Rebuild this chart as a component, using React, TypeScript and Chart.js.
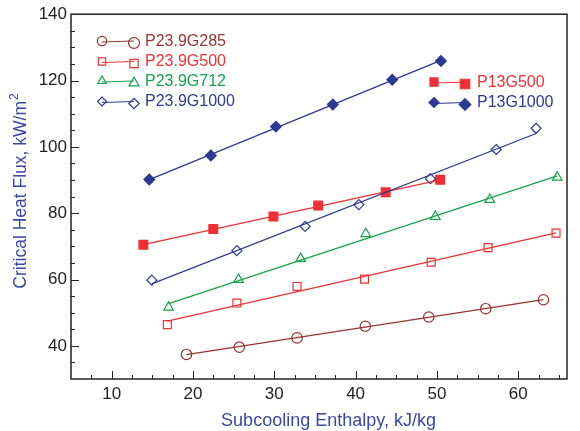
import React, { useEffect, useRef } from 'react';
import { Chart, registerables } from 'chart.js';
Chart.register(...registerables);

// ---- data ----
const xTicks = [10, 20, 30, 40, 50, 60];
const yTicks = [40, 60, 80, 100, 120, 140];

const seriesNames = ['P23.9G285', 'P23.9G500', 'P23.9G712', 'P23.9G1000', 'P13G500', 'P13G1000'];
const xTitle = 'Subcooling Enthalpy, kJ/kg';
const yTitle = 'Critical Heat Flux, kW/m';
const yTitleSup = '2';

const g285X = [19.2, 25.7, 32.8, 41.2, 49.0, 56.0, 63.1];
const g285Y = [37.4, 39.6, 42.4, 45.9, 48.7, 51.2, 53.9];
const g500X = [16.85, 25.4, 32.8, 41.1, 49.3, 56.3, 64.65];
const g500Y = [46.4, 52.9, 57.9, 60.1, 65.2, 69.6, 74.0];
const g712X = [17.0, 25.6, 33.25, 41.25, 49.8, 56.5, 64.8];
const g712Y = [51.6, 60.0, 66.3, 73.8, 79.0, 84.1, 90.8];
const g1000X = [14.93, 25.4, 33.8, 40.4, 49.2, 57.3, 62.2];
const g1000Y = [59.8, 68.7, 76.0, 82.6, 90.4, 99.2, 105.6];
const p13g500X = [13.9, 22.5, 29.9, 35.4, 43.7, 50.4];
const p13g500Y = [70.5, 75.2, 79.0, 82.3, 86.3, 90.1];
const p13g1000X = [14.63, 22.2, 30.2, 37.2, 44.5, 50.5];
const p13g1000Y = [90.15, 97.4, 106.1, 112.8, 120.2, 125.9];

// ---- styles ----
const BROWN = '#94352f';
const RED = '#ee3137';
const GREEN = '#16a34a';
const BLUE = '#2c3a92';
const TITLE_BLUE = '#3a49a3';
const FONT = "'Liberation Sans', Arial, sans-serif";

type Spec = { name: string; xs: number[]; ys: number[]; color: string; style: string; filled: boolean; r: number };

const specs: Spec[] = [
  { name: seriesNames[0], xs: g285X, ys: g285Y, color: BROWN, style: 'circle', filled: false, r: 5.2 },
  { name: seriesNames[1], xs: g500X, ys: g500Y, color: RED, style: 'rect', filled: false, r: 5.6 },
  { name: seriesNames[2], xs: g712X, ys: g712Y, color: GREEN, style: 'triangle', filled: false, r: 5.6 },
  { name: seriesNames[3], xs: g1000X, ys: g1000Y, color: BLUE, style: 'rectRot', filled: false, r: 5.0 },
  { name: seriesNames[4], xs: p13g500X, ys: p13g500Y, color: RED, style: 'rect', filled: true, r: 6.2 },
  { name: seriesNames[5], xs: p13g1000X, ys: p13g1000Y, color: BLUE, style: 'rectRot', filled: true, r: 5.4 },
];

function fitLine(xs: number[], ys: number[]) {
  const n = xs.length;
  const mx = xs.reduce((a, b) => a + b, 0) / n;
  const my = ys.reduce((a, b) => a + b, 0) / n;
  let sxy = 0, sxx = 0;
  for (let i = 0; i < n; i++) { sxy += (xs[i] - mx) * (ys[i] - my); sxx += (xs[i] - mx) ** 2; }
  const b = sxy / sxx;
  const a = my - b * mx;
  const x0 = Math.min(...xs), x1 = Math.max(...xs);
  return [{ x: x0, y: a + b * x0 }, { x: x1, y: a + b * x1 }];
}

function drawMarker(ctx: CanvasRenderingContext2D, style: string, x: number, y: number, r: number, color: string, filled: boolean) {
  ctx.save();
  ctx.beginPath();
  if (style === 'circle') {
    ctx.arc(x, y, r, 0, Math.PI * 2);
  } else if (style === 'rect') {
    const s = r * Math.SQRT1_2;
    ctx.rect(x - s, y - s, 2 * s, 2 * s);
  } else if (style === 'triangle') {
    for (let k = 0; k < 3; k++) {
      const ang = k * (2 * Math.PI / 3);
      const px = x + Math.sin(ang) * r, py = y - Math.cos(ang) * r;
      if (k === 0) ctx.moveTo(px, py); else ctx.lineTo(px, py);
    }
    ctx.closePath();
  } else {
    ctx.moveTo(x, y - r); ctx.lineTo(x + r, y); ctx.lineTo(x, y + r); ctx.lineTo(x - r, y); ctx.closePath();
  }
  ctx.lineWidth = 1.2;
  ctx.strokeStyle = color;
  if (filled) { ctx.fillStyle = color; ctx.fill(); }
  ctx.stroke();
  ctx.restore();
}

const framePlugin = {
  id: 'frame',
  afterDatasetsDraw(chart: any) {
    const { ctx, chartArea: a, scales } = chart;
    const xs = scales.x, ys = scales.y;
    ctx.save();
    ctx.strokeStyle = '#222';
    ctx.lineWidth = 1.5;
    ctx.strokeRect(a.left, a.top, a.right - a.left, a.bottom - a.top);
    ctx.lineWidth = 1;
    ctx.beginPath();
    for (let v = 7.5; v < xs.max; v += 2.5) {
      const px = Math.round(xs.getPixelForValue(v)) + 0.5;
      const len = v % 10 === 0 ? 8 : 4;
      ctx.moveTo(px, a.bottom); ctx.lineTo(px, a.bottom - len);
    }
    for (let v = 35; v < ys.max; v += 5) {
      const py = Math.round(ys.getPixelForValue(v)) + 0.5;
      const len = v % 20 === 0 ? 8 : 4;
      ctx.moveTo(a.left, py); ctx.lineTo(a.left + len, py);
    }
    ctx.stroke();

    // axis titles
    ctx.fillStyle = TITLE_BLUE;
    ctx.textBaseline = 'middle';
    ctx.textAlign = 'center';
    ctx.font = `18px ${FONT}`;
    ctx.fillText(xTitle, 328.5, 421);

    ctx.translate(21, 191);
    ctx.rotate(-Math.PI / 2);
    ctx.font = `17.5px ${FONT}`;
    const w1 = ctx.measureText(yTitle).width;
    ctx.font = `12px ${FONT}`;
    const w2 = ctx.measureText(yTitleSup).width;
    const total = w1 + w2 + 1;
    ctx.textAlign = 'left';
    ctx.font = `17.5px ${FONT}`;
    ctx.fillText(yTitle, -total / 2, 0);
    ctx.font = `12px ${FONT}`;
    ctx.fillText(yTitleSup, -total / 2 + w1 + 1, -6.5);
    ctx.restore();
  },
};

const legendPlugin = {
  id: 'customLegend',
  afterDraw(chart: any) {
    const { ctx } = chart;
    ctx.save();
    ctx.font = `16px ${FONT}`;
    ctx.textBaseline = 'middle';
    ctx.textAlign = 'left';
    const left = [
      { s: specs[0], y: 41.5 },
      { s: specs[1], y: 62 },
      { s: specs[2], y: 81.5 },
      { s: specs[3], y: 102 },
    ];
    const right = [
      { s: specs[4], y: 82.5 },
      { s: specs[5], y: 103 },
    ];
    const drawRow = (s: Spec, y: number, x0: number, x1: number, tx: number, rs: number, rb: number) => {
      ctx.beginPath();
      ctx.strokeStyle = s.color;
      ctx.lineWidth = 1.2;
      ctx.moveTo(x0, y + 0.5); ctx.lineTo(x1, y - 0.5);
      ctx.stroke();
      drawMarker(ctx, s.style, x0, y - 0.5, rs, s.color, s.filled);
      drawMarker(ctx, s.style, x1, y + 1.5, rb, s.color, s.filled);
      ctx.fillStyle = s.color;
      ctx.fillText(s.name, tx, y);
    };
    left.forEach(({ s, y }) => drawRow(s, y, 102, 134, 145, s.r * 0.9, s.r * 1.05));
    right.forEach(({ s, y }) => drawRow(s, y, 434, 465, 477, s.r * 0.92, s.r * 1.08));
    ctx.restore();
  },
};

export default function App() {
  const ref = useRef<HTMLCanvasElement>(null);
  useEffect(() => {
    const canvas = ref.current!;
    const datasets: any[] = [];
    specs.forEach((s) => {
      datasets.push({
        label: s.name + ' fit',
        data: fitLine(s.xs, s.ys),
        showLine: true,
        borderColor: s.color,
        borderWidth: 1.3,
        pointRadius: 0,
        fill: false,
      });
    });
    specs.forEach((s) => {
      datasets.push({
        label: s.name,
        data: s.xs.map((x, i) => ({ x, y: s.ys[i] })),
        showLine: false,
        pointStyle: s.style,
        pointRadius: s.r,
        pointBorderWidth: 1.2,
        borderColor: s.color,
        backgroundColor: s.filled ? s.color : 'rgba(0,0,0,0)',
        pointBackgroundColor: s.filled ? s.color : 'rgba(0,0,0,0)',
        pointBorderColor: s.color,
      });
    });
    const chart = new Chart(canvas, {
      type: 'scatter',
      data: { datasets },
      options: {
        animation: false,
        responsive: false,
        devicePixelRatio: 1,
        layout: { padding: { left: 0, top: 13, right: 13, bottom: 0 } },
        plugins: { legend: { display: false }, tooltip: { enabled: false } },
        scales: {
          x: {
            type: 'linear',
            min: 5,
            max: 66,
            afterBuildTicks: (s: any) => { s.ticks = xTicks.map((v) => ({ value: v })); },
            afterFit: (s: any) => { s.height = 52; },
            grid: { display: false, drawTicks: false },
            border: { display: false },
            ticks: { padding: 5, color: '#222', font: { family: FONT, size: 17 }, maxRotation: 0, autoSkip: false },
            title: { display: false },
          },
          y: {
            type: 'linear',
            min: 30,
            max: 140,
            afterBuildTicks: (s: any) => { s.ticks = yTicks.map((v) => ({ value: v })); },
            afterFit: (s: any) => { s.width = 71; },
            grid: { display: false, drawTicks: false },
            border: { display: false },
            ticks: { padding: 4, color: '#222', font: { family: FONT, size: 17 }, autoSkip: false },
            title: { display: false },
          },
        },
      } as any,
      plugins: [framePlugin, legendPlugin],
    });
    return () => chart.destroy();
  }, []);
  return (
    <div style={{ position: 'fixed', left: 0, top: 0, width: 580, height: 431, background: '#fff' }}>
      <canvas ref={ref} width={580} height={431} style={{ display: 'block', width: 580, height: 431 }} />
    </div>
  );
}
